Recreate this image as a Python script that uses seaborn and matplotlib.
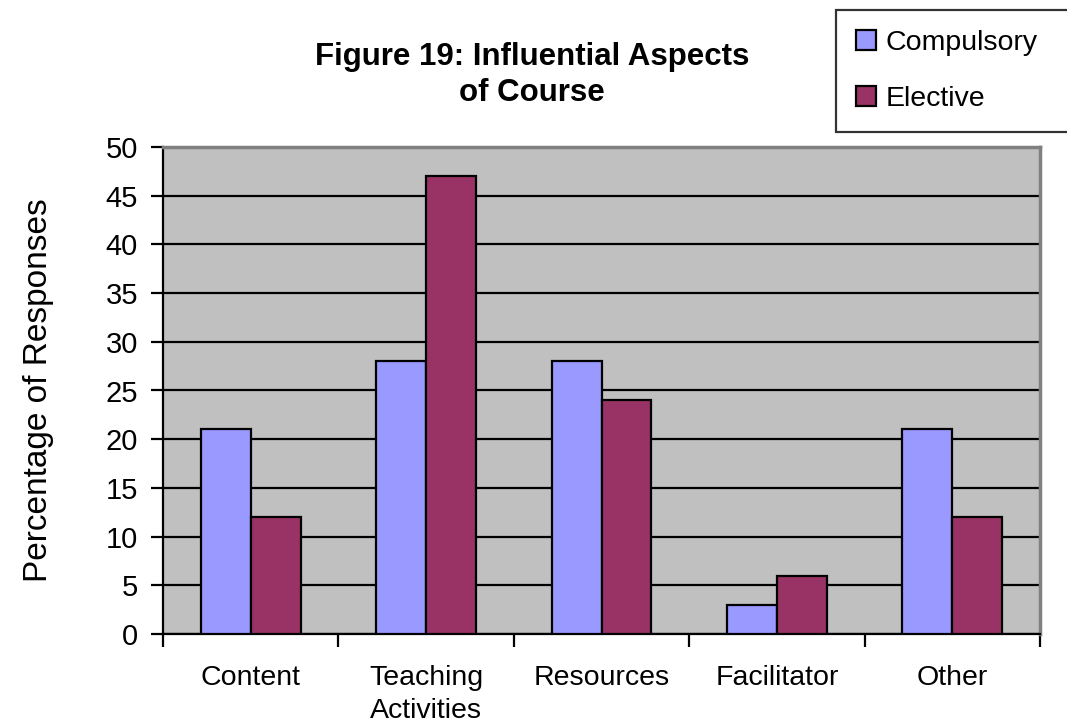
import matplotlib
matplotlib.use("Agg")
import matplotlib.pyplot as plt
import seaborn as sns
import pandas as pd
from matplotlib.patches import Patch
from matplotlib.ticker import FixedLocator, NullFormatter

categories = ["Content", "Teaching\nActivities", "Resources", "Facilitator", "Other"]
compulsory = [21, 28, 28, 3, 21]
elective = [12, 47, 24, 6, 12]
series_names = ["Compulsory", "Elective"]
colors = ["#9999FF", "#993366"]
yticks = [0, 5, 10, 15, 20, 25, 30, 35, 40, 45, 50]

sns.set_style("white")
plt.rcParams["font.family"] = ["Liberation Sans", "DejaVu Sans"]
plt.rcParams["text.color"] = "black"
plt.rcParams["axes.labelcolor"] = "black"
plt.rcParams["xtick.color"] = "black"
plt.rcParams["ytick.color"] = "black"

df = pd.DataFrame({
    "Category": categories * 2,
    "Value": compulsory + elective,
    "Series": [series_names[0]] * len(categories) + [series_names[1]] * len(categories),
})

fig = plt.figure(figsize=(10.67, 7.22), dpi=100)
ax = fig.add_axes([163 / 1067, 1 - 634 / 722, (1040 - 163) / 1067, (634 - 147) / 722])
ax.set_facecolor("#C0C0C0")

sns.barplot(data=df, x="Category", y="Value", hue="Series", order=categories,
            hue_order=series_names, palette=colors, width=0.57,
            edgecolor="black", linewidth=1.6, saturation=1, legend=False,
            zorder=3, ax=ax)

ax.set_ylim(0, 50)
ax.set_xlim(-0.5, len(categories) - 0.5)
ax.set_yticks(yticks)
ax.yaxis.grid(True, color="black", linewidth=1.6, zorder=0)
ax.set_axisbelow(True)
ax.tick_params(axis="y", which="major", length=9, width=1.6, direction="out",
               labelsize=21, pad=9, left=True, labelcolor="black")
ax.tick_params(axis="x", which="major", length=0, labelsize=20.5, pad=22, labelcolor="black")
for lbl in ax.get_xticklabels():
    lbl.set_linespacing(1.35)
ax.xaxis.set_minor_locator(FixedLocator([i - 0.5 for i in range(len(categories) + 1)]))
ax.xaxis.set_minor_formatter(NullFormatter())
ax.tick_params(axis="x", which="minor", length=9, width=1.6, direction="out", bottom=True)
ax.set_xlabel("")
ax.set_ylabel("Percentage of Responses", fontsize=24, labelpad=37, color="black")

for side in ["left", "bottom"]:
    ax.spines[side].set_color("black")
    ax.spines[side].set_linewidth(1.6)
for side in ["top", "right"]:
    ax.spines[side].set_visible(True)
    ax.spines[side].set_color("#808080")
    ax.spines[side].set_linewidth(2.5)

fig.text(532 / 1067, 1 - 75 / 722, "Figure 19: Influential Aspects\nof Course",
         ha="center", va="center", fontsize=22.5, fontweight="bold", linespacing=1.25,
         color="black")

handles = [Patch(facecolor=c, edgecolor="black", linewidth=1.6) for c in colors]
leg = fig.legend(handles, series_names, loc="upper left", mode="expand",
                 bbox_to_anchor=(836 / 1067, 1 - 130 / 722, 245 / 1067, 120 / 722),
                 bbox_transform=fig.transFigure,
                 borderaxespad=0, fontsize=20.5, frameon=True, fancybox=False,
                 edgecolor="black", handlelength=0.7, handleheight=0.7,
                 handletextpad=0.35, labelspacing=1.05, borderpad=0.7)
leg.get_frame().set_linewidth(1.6)
for t in leg.get_texts():
    t.set_color("black")

fig.savefig("out.png", dpi=100)
